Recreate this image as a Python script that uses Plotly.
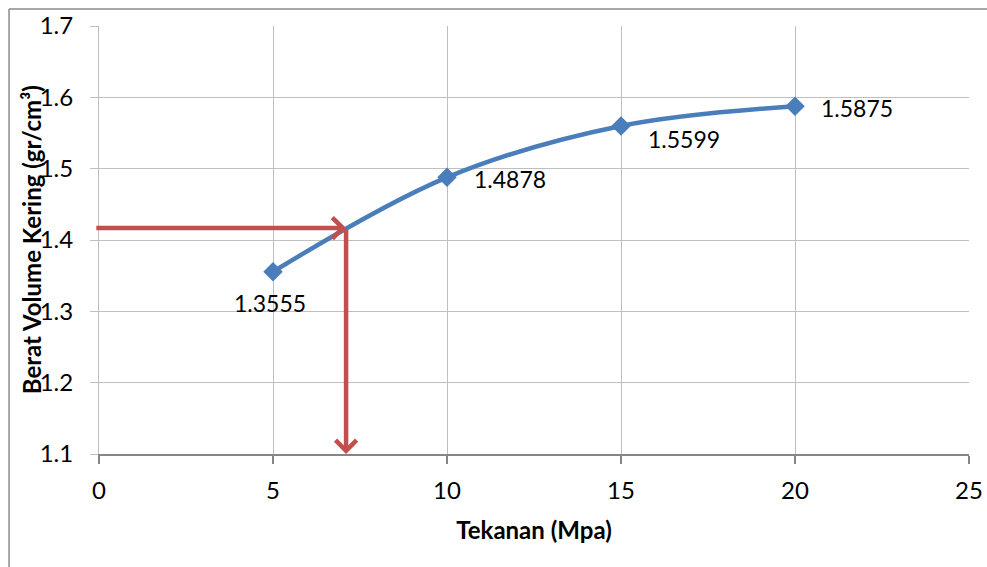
import plotly.graph_objects as go

# Data
tekanan = [5, 10, 15, 20]
berat_volume = [1.3555, 1.4878, 1.5599, 1.5875]
labels = ["1.3555", "1.4878", "1.5599", "1.5875"]

# reading guide (red arrows)
guide_x = 7.1
guide_y = 1.4167
guide_x_start = -0.12
y_min = 1.1

x_ticks = [0, 5, 10, 15, 20, 25]
y_ticks = [1.1, 1.2, 1.3, 1.4, 1.5, 1.6, 1.7]

FONT = "Lato"
BLUE = "#4A7EBB"
RED = "#C0504D"
GRID = "#BFBFBF"
AXIS = "#868686"

fig = go.Figure()
fig.add_trace(go.Scatter(
    x=tekanan, y=berat_volume,
    mode="lines+markers",
    line=dict(color=BLUE, width=4.5, shape="spline", smoothing=1.0),
    marker=dict(symbol="diamond", size=15, color=BLUE),
    showlegend=False, hoverinfo="x+y",
))

# data labels
offsets = [
    dict(xanchor="center", xshift=-3, yshift=-31),
    dict(xanchor="left", xshift=25, yshift=-2),
    dict(xanchor="left", xshift=25, yshift=-13),
    dict(xanchor="left", xshift=24, yshift=-2),
]
annotations = []
for xv, yv, lab, off in zip(tekanan, berat_volume, labels, offsets):
    annotations.append(dict(
        x=xv, y=yv, xref="x", yref="y", text=lab, showarrow=False,
        yanchor="middle", font=dict(family=FONT, size=23, color="#000000"), **off))

# y-axis title
annotations.append(dict(
    x=-0.078, y=0.5, xref="paper", yref="paper", showarrow=False,
    text="<b>Berat Volume Kering (gr/cm³)</b>", textangle=-90,
    xanchor="center", yanchor="middle",
    font=dict(family=FONT, size=24, color="#000000")))

# red arrows
annotations.append(dict(
    x=guide_x, y=guide_y, ax=guide_x_start, ay=guide_y,
    xref="x", yref="y", axref="x", ayref="y", text="",
    showarrow=True, arrowhead=4, arrowsize=0.9, arrowwidth=4.5, arrowcolor=RED))
annotations.append(dict(
    x=guide_x, y=y_min, ax=guide_x, ay=guide_y,
    xref="x", yref="y", axref="x", ayref="y", text="",
    showarrow=True, arrowhead=4, arrowsize=0.9, arrowwidth=4.5, arrowcolor=RED))

shapes = [
    dict(type="line", xref="paper", yref="paper", x0=-0.1034, x1=-0.1034,
         y0=-0.3, y1=1.0397, line=dict(color="#8A8A8A", width=1.5)),
    dict(type="line", xref="paper", yref="paper", x0=-0.1034, x1=1.05,
         y0=1.0397, y1=1.0397, line=dict(color="#8A8A8A", width=1.5)),
]

fig.update_layout(
    width=987, height=567,
    margin=dict(l=99, r=18, t=26, b=113, autoexpand=False),
    paper_bgcolor="white", plot_bgcolor="white",
    font=dict(family=FONT, size=24, color="#000000"),
    annotations=annotations, shapes=shapes,
    xaxis=dict(
        range=[0, 25], tickvals=x_ticks, ticktext=[str(v) for v in x_ticks],
        showgrid=True, gridcolor=GRID, gridwidth=1, zeroline=False,
        showline=True, linecolor=AXIS, linewidth=1.5,
        ticks="outside", ticklen=8, tickcolor=AXIS, tickwidth=1.5,
        ticklabelstandoff=6, automargin=False, ticklabeloverflow="allow",
        title=dict(text="<b>Tekanan (Mpa)</b>", font=dict(family=FONT, size=24), standoff=20),
    ),
    yaxis=dict(
        range=[1.1, 1.7], tickvals=y_ticks, ticktext=[f"{v:.1f}" for v in y_ticks],
        showgrid=True, gridcolor=GRID, gridwidth=1, zeroline=False,
        showline=True, linecolor=GRID, linewidth=1,
        ticks="outside", ticklen=8, tickcolor=GRID, tickwidth=1,
        ticklabelstandoff=12, automargin=False,
    ),
)

fig.write_html(
    "out.html",
    config={"displayModeBar": False},
    post_script="document.body.style.margin='0';document.body.style.overflow='hidden';",
)
